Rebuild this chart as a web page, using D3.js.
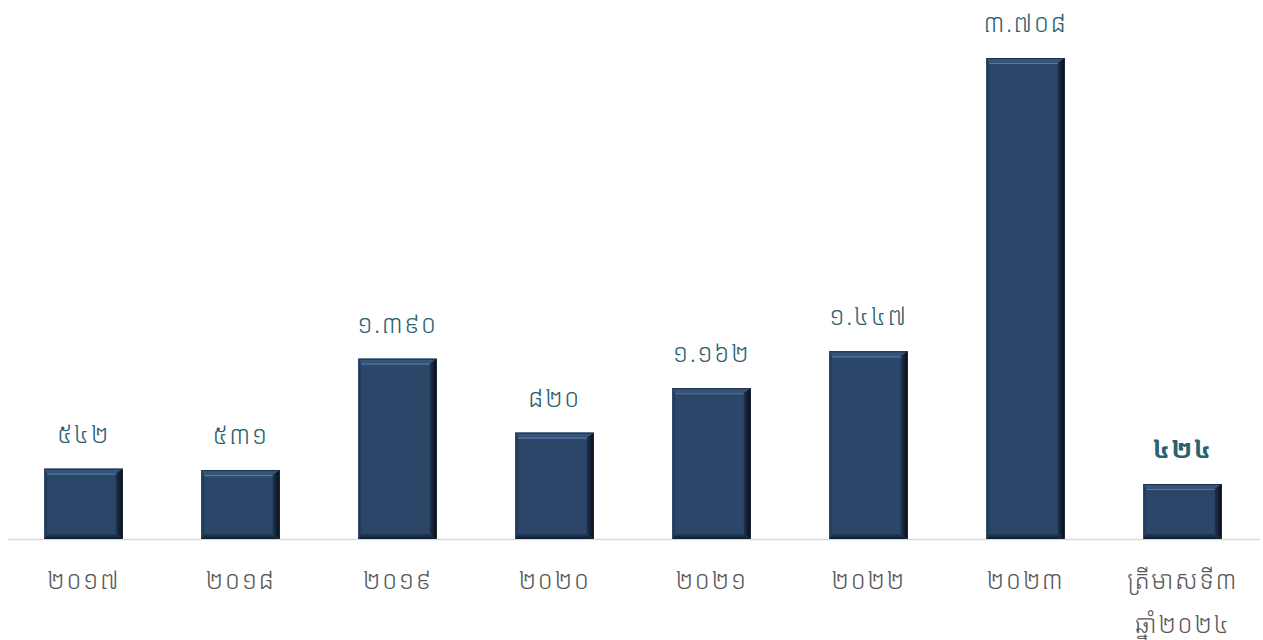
<!DOCTYPE html>
<html>
<head>
<meta charset="utf-8">
<script src="https://cdn.jsdelivr.net/npm/d3@7"></script>
<style>
  html, body { margin: 0; padding: 0; background: #fff; }
  svg { display: block; }
  text { font-family: "Noto Sans Khmer", "Khmer OS", "Noto Sans", sans-serif; }
</style>
</head>
<body>
<svg id="chart" width="1263" height="640"></svg>
<script>
(function() {
	'use strict';

	// data
	var categories = ['២០១៧', '២០១៨', '២០១៩', '២០២០', '២០២១', '២០២២', '២០២៣', 'ត្រីមាសទី៣\nឆ្នាំ២០២៤'];
	var values = [542, 531, 1390, 820, 1162, 1447, 3708, 424];
	var valueLabels = ['៥៤២', '៥៣១', '១.៣៩០', '៨២០', '១.១៦២', '១.៤៤៧', '៣.៧០៨', '៤២៤'];

	var width = 1263, height = 640;
	var margin = { left: 5, right: 3, top: 58, bottom: 101 };
	var baseY = height - margin.bottom;

	var svg = d3.select('#chart');
	var defs = svg.append('defs');

	// gradients for the bevel sides
	var gr = defs.append('linearGradient').attr('id', 'gRight').attr('x1', 0).attr('x2', 1).attr('y1', 0).attr('y2', 0);
	gr.append('stop').attr('offset', 0).attr('stop-color', '#1f3450');
	gr.append('stop').attr('offset', 1).attr('stop-color', '#070d16');
	var gb = defs.append('linearGradient').attr('id', 'gBottom').attr('x1', 0).attr('x2', 0).attr('y1', 0).attr('y2', 1);
	gb.append('stop').attr('offset', 0).attr('stop-color', '#22395a');
	gb.append('stop').attr('offset', 1).attr('stop-color', '#101d2e');

	var x = d3.scaleBand()
		.domain(categories)
		.range([5, 1261])
		.paddingInner(0.5)
		.paddingOuter(0.25);

	var y = d3.scaleLinear()
		.domain([0, 3708])
		.range([baseY, margin.top]);

	var data = categories.map(function(c, i) {
		return { cat: c, value: values[i], label: valueLabels[i], bold: i === categories.length - 1 };
	});

	// axis line
	svg.append('line')
		.attr('x1', 8).attr('x2', 1260)
		.attr('y1', baseY + 0.5).attr('y2', baseY + 0.5)
		.attr('stroke', '#d9d9d9')
		.attr('stroke-width', 1.5);

	var bt = 5, bl = 3, br = 7, bb = 5; // bevel sizes
	var bars = svg.selectAll('g.bar').data(data).enter().append('g').attr('class', 'bar');

	bars.each(function(d) {
		var g = d3.select(this);
		var x0 = x(d.cat), x1 = x0 + x.bandwidth();
		var y0 = y(d.value), y1 = y(0);

		g.append('rect')
			.attr('x', x0).attr('y', y0)
			.attr('width', x1 - x0).attr('height', y1 - y0)
			.attr('fill', '#2b4668');

		// top bevel
		g.append('polygon')
			.attr('points', [[x0, y0], [x1, y0], [x1 - br, y0 + bt], [x0 + bl, y0 + bt]].join(' '))
			.attr('fill', '#34547a');
		// left bevel
		g.append('polygon')
			.attr('points', [[x0, y0], [x0 + bl, y0 + bt], [x0 + bl, y1 - bb], [x0, y1]].join(' '))
			.attr('fill', '#243d5e');
		// right bevel
		g.append('polygon')
			.attr('points', [[x1, y0], [x1, y1], [x1 - br, y1 - bb], [x1 - br, y0 + bt]].join(' '))
			.attr('fill', 'url(#gRight)');
		// bottom bevel
		g.append('polygon')
			.attr('points', [[x0, y1], [x1, y1], [x1 - br, y1 - bb], [x0 + bl, y1 - bb]].join(' '))
			.attr('fill', 'url(#gBottom)');
		// dark top outline and highlight under the top edge
		g.append('line')
			.attr('x1', x0).attr('x2', x1)
			.attr('y1', y0 + 0.5).attr('y2', y0 + 0.5)
			.attr('stroke', '#1c2f48').attr('stroke-width', 1);
		g.append('line')
			.attr('x1', x0 + bl).attr('x2', x1 - br)
			.attr('y1', y0 + bt + 0.5).attr('y2', y0 + bt + 0.5)
			.attr('stroke', '#5677a0').attr('stroke-width', 1.2);
	});

	// value labels
	svg.selectAll('text.val').data(data).enter().append('text')
		.attr('class', 'val')
		.attr('x', function(d) { return x(d.cat) + x.bandwidth() / 2; })
		.attr('y', function(d) { return y(d.value) - 26; })
		.attr('text-anchor', 'middle')
		.attr('font-size', 25)
		.attr('letter-spacing', 1.5)
		.attr('font-weight', function(d) { return d.bold ? 'bold' : 300; })
		.attr('fill', '#2c6170')
		.text(function(d) { return d.label; });

	// category labels
	svg.selectAll('text.cat').data(data).enter().append('text')
		.attr('class', 'cat')
		.attr('x', function(d) { return x(d.cat) + x.bandwidth() / 2; })
		.attr('y', baseY + 50)
		.attr('text-anchor', 'middle')
		.attr('font-size', 25)
		.attr('letter-spacing', 1.5)
		.attr('font-weight', 300)
		.attr('fill', '#595959')
		.each(function(d) {
			var t = d3.select(this);
			d.cat.split('\n').forEach(function(line, i) {
				t.append('tspan')
					.attr('x', x(d.cat) + x.bandwidth() / 2)
					.attr('dy', i === 0 ? 0 : 44)
					.text(line);
			});
		});
})();
</script>
</body>
</html>
